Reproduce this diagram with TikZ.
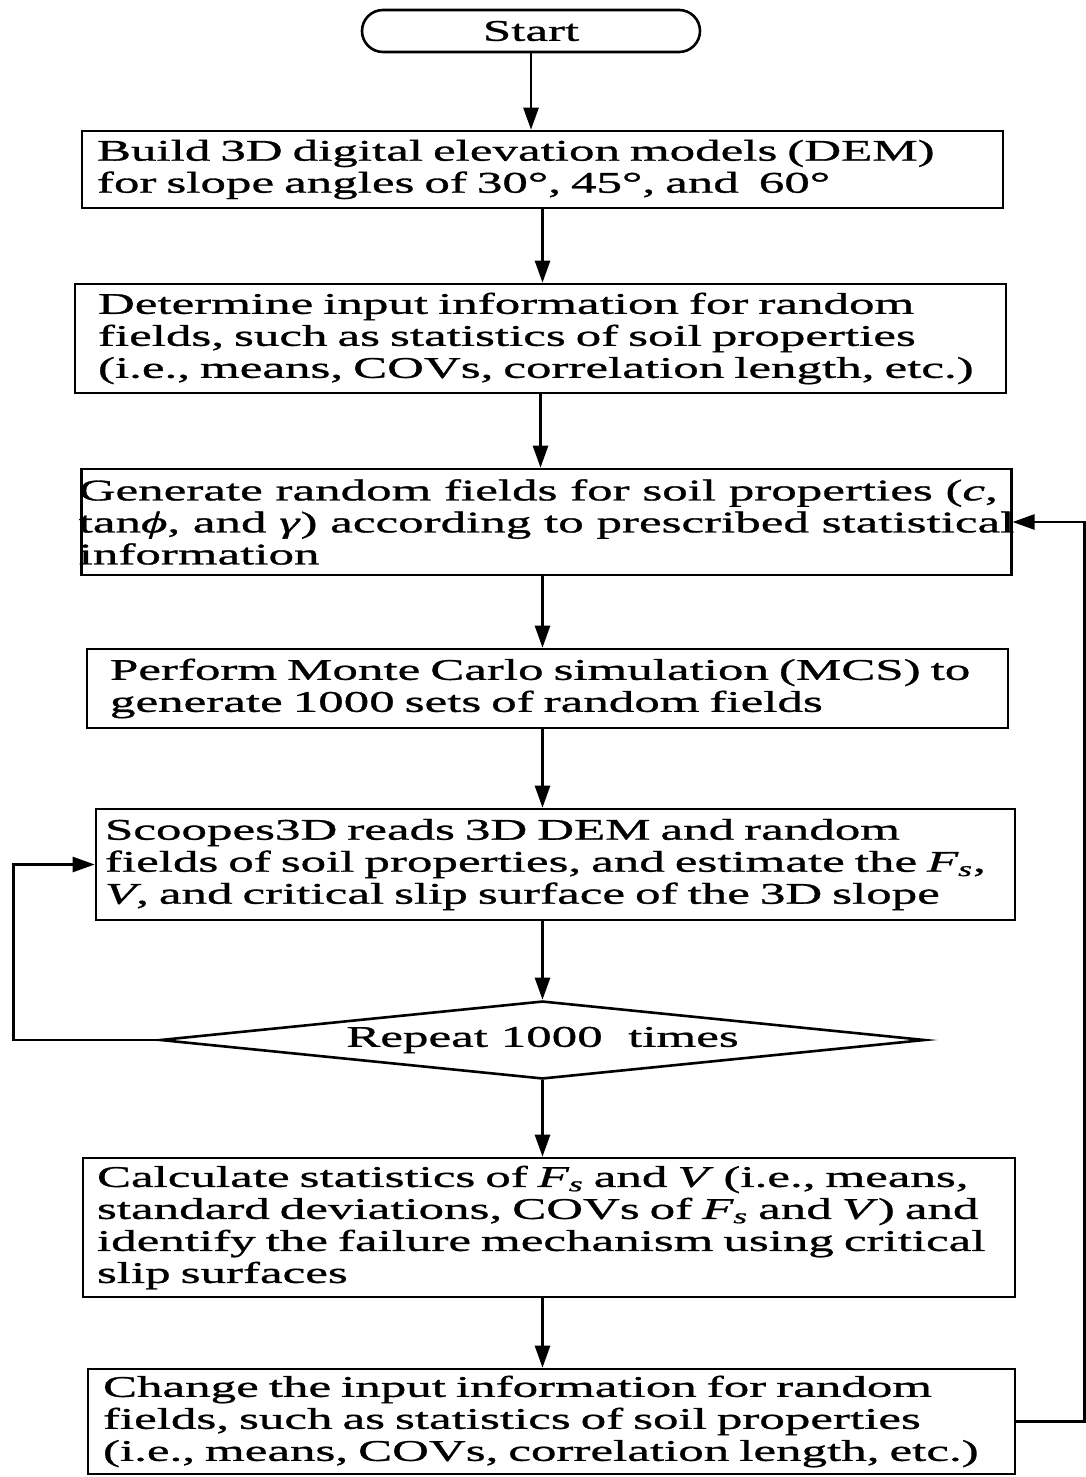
\documentclass[tikz,border=0pt]{standalone}
\usepackage{fontspec}
\setmainfont{Liberation Serif}[FakeStretch=1.70, FakeBold=1]
\usepackage{tikz}
\usetikzlibrary{shapes.geometric, shapes.misc}
\usetikzlibrary{positioning, arrows.meta}

\begin{document}
\begin{tikzpicture}[
        x=0.5pt, y=-0.5pt,
        font=\fontsize{15pt}{16pt}\selectfont,
        startstop/.style={rounded rectangle, minimum width=169pt, minimum height=21pt, inner sep=0pt, draw=black, line width=1.3pt},
        process/.style={rectangle, align=left, inner ysep=0pt, draw=black, line width=1.3pt},
        decision/.style={diamond, aspect=9.8, minimum width=382.5pt, minimum height=39pt, inner sep=0pt, draw=black, line width=1.3pt},
        arrow/.style={line width=1.3pt, -{Triangle[length=11pt, width=7.5pt]}}
    ]
        \useasboundingbox (0,0) rectangle (1086,1477);

        % ===== main flow =====
        \node (start) [startstop] at (531,31) {Start};
        \node (dem) [process, text width=445.5pt, inner xsep=7.5pt, minimum height=38.5pt] at (542.5,169.5)
            {Build 3D digital elevation models (DEM)\\ for slope angles of 30°, 45°, and~ 60°};
        \node (inputs) [process, text width=442.5pt, inner xsep=11.5pt, minimum height=54.5pt] at (540.5,338.5)
            {Determine input information for random\\ fields, such as statistics of soil properties\\ (i.e., means, COVs, correlation length, etc.)};
        \node (generate) [process, inner xsep=-1.5pt, minimum width=464.5pt, minimum height=53pt] at (546.5,522)
            {Generate random fields for soil properties (\textit{c},\\ tan\textit{ϕ}, and \textit{γ}) according to prescribed statistical\\ information};
        \node (mcs) [process, text width=437.5pt, inner xsep=11.5pt, minimum height=39.5pt] at (547.5,688.5)
            {Perform Monte Carlo simulation (MCS) to\\ generate 1000 sets of random fields};
        \node (scoopes) [process, text width=450.5pt, inner xsep=4.5pt, minimum height=55.5pt] at (555.5,864.5)
            {Scoopes3D reads 3D DEM and random\\ fields of soil properties, and estimate the \textit{F\textsubscript{s}},\\ \textit{V}, and critical slip surface of the 3D slope};
        \node (repeat) [decision] at (542.5,1040) {Repeat 1000~ times};
        \node (stats) [process, text width=452pt, inner xsep=7pt, minimum height=69.5pt] at (549,1227.5)
            {Calculate statistics of \textit{F\textsubscript{s}} and \textit{V} (i.e., means,\\ standard deviations, COVs of \textit{F\textsubscript{s}} and \textit{V}) and\\ identify the failure mechanism using critical\\ slip surfaces};
        \node (change) [process, text width=448.5pt, inner xsep=7.5pt, minimum height=52.5pt] at (551.5,1421.5)
            {Change the input information for random\\ fields, such as statistics of soil properties\\ (i.e., means, COVs, correlation length, etc.)};

        % ===== arrows =====
        \draw [arrow] (start.south) -- (start.south |- dem.north);
        \draw [arrow] (dem.south) -- (dem.south |- inputs.north);
        \draw [arrow] (inputs.south) -- (inputs.south |- generate.north);
        \draw [arrow] (repeat.north |- generate.south) -- (repeat.north |- mcs.north);
        \draw [arrow] (repeat.north |- mcs.south) -- (repeat.north |- scoopes.north);
        \draw [arrow] (repeat.north |- scoopes.south) -- (repeat.north);
        \draw [arrow] (repeat.south) -- (repeat.south |- stats.north);
        \draw [arrow] (repeat.south |- stats.south) -- (repeat.south |- change.north);

        % loops
        \draw [arrow] (repeat.west) -- ++(-145,0) |- (scoopes.west);
        \draw [arrow] (change.east) -- ++(68,0) |- (generate.east);

    \end{tikzpicture}
\end{document}
